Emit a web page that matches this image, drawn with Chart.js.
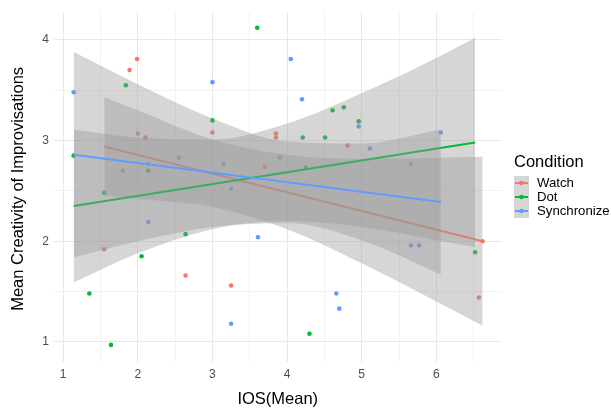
<!DOCTYPE html>
<html>
<head>
<meta charset="utf-8">
<script src="https://cdn.jsdelivr.net/npm/chart.js@4/dist/chart.umd.min.js"></script>
<style>
  body { margin: 0; background: #fff; }
  #wrap { width: 611px; height: 410px; }
</style>
</head>
<body>
<div id="wrap"><canvas id="chart" width="611" height="410"></canvas></div>
<script>
// Scatter values
const watchX = [1.99, 1.89, 3.00, 2.00, 2.10, 2.55, 1.80, 3.85, 3.85, 4.81, 3.70, 1.55, 2.64, 3.25, 6.57, 6.62];
const watchY = [3.81, 3.70, 3.08, 3.07, 3.03, 2.83, 2.70, 3.07, 3.03, 2.95, 2.74, 1.92, 1.66, 1.56, 1.44, 2.00];
const dotX = [1.14, 1.84, 3.00, 2.14, 3.60, 4.61, 4.76, 4.96, 4.21, 4.51, 4.25, 1.55, 2.64, 2.05, 1.35, 1.64, 4.30, 6.52];
const dotY = [2.85, 3.55, 3.20, 2.70, 4.12, 3.30, 3.33, 3.19, 3.03, 3.03, 2.73, 2.48, 2.07, 1.85, 1.48, 0.97, 1.08, 1.89];
const syncX = [1.14, 3.00, 2.14, 3.15, 4.05, 4.20, 4.96, 5.11, 3.90, 6.06, 5.66, 2.14, 3.25, 3.25, 3.61, 4.66, 4.70, 5.66, 5.77];
const syncY = [3.48, 3.58, 2.77, 2.77, 3.81, 3.41, 3.14, 2.92, 2.83, 3.08, 2.77, 2.19, 1.18, 2.52, 2.04, 1.48, 1.33, 1.96, 1.96];

// Fitted lines (end points) and confidence bands
const watchFitX = [1.55, 6.62];
const watchFitY = [2.94, 2.00];
const dotFitX = [1.14, 6.52];
const dotFitY = [2.35, 2.98];
const syncFitX = [1.14, 6.06];
const syncFitY = [2.86, 2.39];

const watchBandX = [1.55, 2, 3, 4, 5, 6, 6.62];
const watchBandLow = [2.45, 2.42, 2.34, 2.12, 1.78, 1.40, 1.16];
const watchBandHigh = [3.43, 3.30, 3.01, 2.86, 2.82, 2.83, 2.84];
const dotBandX = [1.14, 2, 3, 4, 5, 6, 6.52];
const dotBandLow = [1.59, 1.88, 2.12, 2.20, 2.14, 2.01, 1.94];
const dotBandHigh = [3.11, 3.03, 3.01, 3.17, 3.47, 3.82, 4.02];
const syncBandX = [1.14, 2, 3, 4, 5, 6.06];
const syncBandLow = [1.84, 2.00, 2.14, 2.18, 2.01, 1.67];
const syncBandHigh = [3.88, 3.56, 3.22, 2.99, 2.97, 3.11];

const groups = ['Watch', 'Dot', 'Synchronize'];
const colors = ['#F8766D', '#00BA38', '#619CFF'];
const FONT = '"Liberation Sans", Arial, Helvetica, sans-serif';
const bandFill = 'rgba(153,153,153,0.4)';

function pts(xs, ys) {
  return xs.map((x, i) => ({ x: x, y: ys[i] }));
}

function scatterSet(xs, ys, color) {
  return {
    data: pts(xs, ys), showLine: false, order: 10,
    pointRadius: 2.3, pointBorderWidth: 0, pointBackgroundColor: color
  };
}

function bandSets(xs, lo, hi, order) {
  const common = { borderWidth: 0, pointRadius: 0, cubicInterpolationMode: 'monotone', order: order };
  return [
    Object.assign({ data: pts(xs, lo), fill: false }, common),
    Object.assign({ data: pts(xs, hi), fill: '-1', backgroundColor: bandFill }, common)
  ];
}

function lineSet(xs, ys, color, order) {
  return { data: pts(xs, ys), borderColor: color, borderWidth: 2, pointRadius: 0, fill: false, order: order };
}

const datasets = [
  scatterSet(watchX, watchY, colors[0]),
  scatterSet(dotX, dotY, colors[1]),
  scatterSet(syncX, syncY, colors[2]),
  ...bandSets(watchBandX, watchBandLow, watchBandHigh, 6),
  lineSet(watchFitX, watchFitY, colors[0], 5),
  ...bandSets(dotBandX, dotBandLow, dotBandHigh, 4),
  lineSet(dotFitX, dotFitY, colors[1], 3),
  ...bandSets(syncBandX, syncBandLow, syncBandHigh, 2),
  lineSet(syncFitX, syncFitY, colors[2], 1)
];

function gridColor(ctx) {
  const v = ctx.tick && ctx.tick.value;
  return Number.isInteger(v) ? '#e8e8e8' : '#f2f2f2';
}

// axis titles + legend drawn by hand
const decor = {
  id: 'decor',
  afterDraw(chart) {
    const c = chart.ctx;
    const a = chart.chartArea;
    c.save();
    c.fillStyle = '#000';
    c.font = '16.5px ' + FONT;
    c.textAlign = 'center';
    c.textBaseline = 'middle';
    c.fillText('IOS(Mean)', (a.left + a.right) / 2, 399);
    c.save();
    c.translate(18.5, (a.top + a.bottom) / 2 + 2);
    c.rotate(-Math.PI / 2);
    c.fillText('Mean Creativity of Improvisations', 0, 0);
    c.restore();

    c.textAlign = 'left';
    c.textBaseline = 'alphabetic';
    c.fillText('Condition', 514, 167);
    c.font = '13.2px ' + FONT;
    c.textBaseline = 'middle';
    groups.forEach((g, i) => {
      const yc = 183 + i * 14;
      c.fillStyle = '#d6d6d6';
      c.fillRect(514, yc - 7, 15, 14);
      c.strokeStyle = colors[i];
      c.lineWidth = 2;
      c.beginPath();
      c.moveTo(515, yc);
      c.lineTo(528, yc);
      c.stroke();
      c.fillStyle = colors[i];
      c.beginPath();
      c.arc(521.5, yc, 2.3, 0, Math.PI * 2);
      c.fill();
      c.fillStyle = '#000';
      c.fillText(g, 537, yc);
    });
    c.restore();
  }
};

new Chart(document.getElementById('chart'), {
  type: 'line',
  data: { datasets: datasets },
  plugins: [decor],
  options: {
    responsive: false,
    animation: false,
    events: [],
    layout: { padding: { left: 0, top: 8, right: 109, bottom: 0 } },
    plugins: { legend: { display: false }, tooltip: { enabled: false } },
    scales: {
      x: {
        type: 'linear', min: 0.87, max: 6.88,
        border: { display: false },
        grid: { drawTicks: false, color: gridColor, lineWidth: 1 },
        ticks: {
          stepSize: 0.5, includeBounds: false, padding: 5, autoSkip: false, maxRotation: 0,
          color: '#4d4d4d', font: { family: FONT, size: 12 },
          callback: v => Number.isInteger(v) ? String(v) : ''
        },
        afterFit: s => { s.height = 48; }
      },
      y: {
        type: 'linear', min: 0.80, max: 4.28,
        border: { display: false },
        grid: { drawTicks: false, color: gridColor, lineWidth: 1 },
        ticks: {
          stepSize: 0.5, includeBounds: false, padding: 4.5, autoSkip: false,
          color: '#4d4d4d', font: { family: FONT, size: 12 },
          callback: v => Number.isInteger(v) ? String(v) : ''
        },
        afterFit: s => { s.width = 53.5; }
      }
    }
  }
});
</script>
</body>
</html>
